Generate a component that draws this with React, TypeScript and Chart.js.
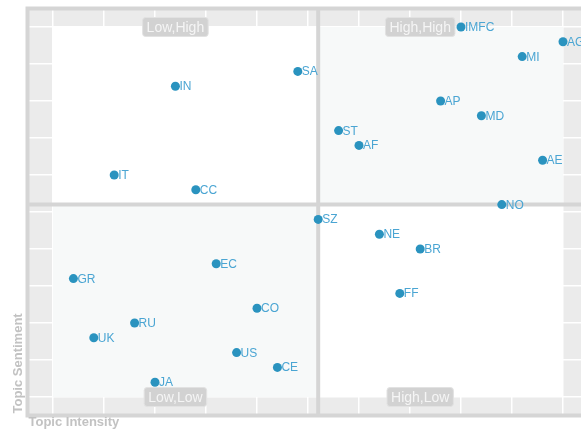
import { useEffect, useRef } from 'react';
import { Chart, registerables } from 'chart.js';

Chart.register(...registerables);

const countries = ['IMFC', 'AG', 'MI', 'SA', 'IN', 'AP', 'MD', 'ST', 'AF', 'AE', 'IT', 'CC', 'NO', 'SZ', 'NE', 'BR', 'EC', 'GR', 'FF', 'CO', 'RU', 'UK', 'US', 'CE', 'JA'];
const topicIntensity = [8.0, 10.0, 9.2, 4.8, 2.4, 7.6, 8.4, 5.6, 6.0, 9.6, 1.2, 2.8, 8.8, 5.2, 6.4, 7.2, 3.2, 0.4, 6.8, 4.0, 1.6, 0.8, 3.6, 4.4, 2.0];
const topicSentiment = [10.0, 9.6, 9.2, 8.8, 8.4, 8.0, 7.6, 7.2, 6.8, 6.4, 6.0, 5.6, 5.2, 4.8, 4.4, 4.0, 3.6, 3.2, 2.8, 2.4, 2.0, 1.6, 1.2, 0.8, 0.4];

const gridTicks = [0, 1, 2, 3, 4, 5, 6, 7, 8, 9, 10];
const axisMin = -0.5;
const axisMax = 10.5;
const splitIntensity = 5.2;
const splitSentiment = 5.2;

const quadrantNames = ['Low,High', 'High,High', 'Low,Low', 'High,Low'];
const quadrantLabelX = [2.4, 7.2, 2.4, 7.2];
const quadrantLabelY = [10, 10, 0, 0];

const xTitle = 'Topic Intensity';
const yTitle = 'Topic Sentiment';

const FONT = '"Liberation Sans", Arial, sans-serif';

const quadPlugin = {
  id: 'quadrants',
  beforeDraw(chart: any) {
    const { ctx, chartArea: a } = chart;
    ctx.save();
    ctx.fillStyle = '#ebebeb';
    ctx.fillRect(a.left, a.top, a.right - a.left, a.bottom - a.top);
    ctx.restore();
  },
  beforeDatasetsDraw(chart: any) {
    const { ctx, chartArea: a } = chart;
    const xs = chart.scales.x;
    const ys = chart.scales.y;
    const x0 = xs.getPixelForValue(gridTicks[0]);
    const x1 = xs.getPixelForValue(gridTicks[gridTicks.length - 1]);
    const xm = xs.getPixelForValue(splitIntensity);
    const y0 = ys.getPixelForValue(gridTicks[0]);
    const y1 = ys.getPixelForValue(gridTicks[gridTicks.length - 1]);
    const ym = ys.getPixelForValue(splitSentiment);
    ctx.save();
    ctx.fillStyle = '#ffffff';
    ctx.fillRect(x0, y1, xm - x0, ym - y1);
    ctx.fillRect(xm, ym, x1 - xm, y0 - ym);
    ctx.fillStyle = '#f7f9f9';
    ctx.fillRect(xm, y1, x1 - xm, ym - y1);
    ctx.fillRect(x0, ym, xm - x0, y0 - ym);
    ctx.strokeStyle = '#d5d5d5';
    ctx.lineWidth = 4;
    ctx.beginPath();
    ctx.moveTo(xm, a.top);
    ctx.lineTo(xm, a.bottom);
    ctx.moveTo(a.left, ym);
    ctx.lineTo(a.right, ym);
    ctx.stroke();
    ctx.strokeRect(a.left, a.top, a.right - a.left, a.bottom - a.top);
    ctx.restore();
  },
  afterDatasetsDraw(chart: any) {
    const { ctx, chartArea: a } = chart;
    const xs = chart.scales.x;
    const ys = chart.scales.y;
    ctx.save();
    // point labels
    ctx.font = '12px ' + FONT;
    ctx.fillStyle = '#4aa5d3';
    ctx.textAlign = 'left';
    ctx.textBaseline = 'alphabetic';
    countries.forEach((name, i) => {
      const px = xs.getPixelForValue(topicIntensity[i]);
      const py = ys.getPixelForValue(topicSentiment[i]);
      ctx.fillText(name, px + 4, py + 4);
    });
    // quadrant boxes
    ctx.font = '14px ' + FONT;
    quadrantNames.forEach((name, i) => {
      const cx = xs.getPixelForValue(quadrantLabelX[i]);
      const cy = ys.getPixelForValue(quadrantLabelY[i]);
      const w = ctx.measureText(name).width + 8;
      const h = 19;
      const bx = cx - w / 2;
      const by = cy - h / 2;
      ctx.beginPath();
      ctx.roundRect(bx, by, w, h, 3);
      ctx.fillStyle = '#d2d2d2';
      ctx.fill();
      ctx.strokeStyle = '#e2e2e2';
      ctx.lineWidth = 1;
      ctx.stroke();
      ctx.fillStyle = '#f5f5f5';
      ctx.textAlign = 'center';
      ctx.textBaseline = 'alphabetic';
      ctx.fillText(name, cx, cy + 5);
    });
    // axis titles
    ctx.font = 'bold 13px ' + FONT;
    ctx.fillStyle = '#c2c2c2';
    ctx.textAlign = 'left';
    ctx.textBaseline = 'alphabetic';
    ctx.fillText(xTitle, a.left + 1, a.bottom + 10);
    ctx.translate(a.left - 5.5, a.bottom - 2);
    ctx.rotate(-Math.PI / 2);
    ctx.fillText(yTitle, 0, 0);
    ctx.restore();
  },
};

export default function App() {
  const ref = useRef<HTMLCanvasElement>(null);
  useEffect(() => {
    if (!ref.current) return;
    const chart = new Chart(ref.current, {
      type: 'scatter',
      data: {
        datasets: [
          {
            label: 'Topics',
            data: countries.map((_, i) => ({ x: topicIntensity[i], y: topicSentiment[i] })),
            backgroundColor: '#2a93bf',
            borderWidth: 0,
            pointRadius: 4.5,
            pointHoverRadius: 4.5,
          },
        ],
      },
      options: {
        animation: false,
        responsive: false,
        events: [],
        layout: { padding: { left: 27.5, top: 8.5, right: 11.5, bottom: 15.5 } },
        plugins: { legend: { display: false }, tooltip: { enabled: false } },
        scales: {
          x: {
            type: 'linear',
            min: axisMin,
            max: axisMax,
            afterBuildTicks: (s: any) => { s.ticks = gridTicks.map((v) => ({ value: v })); },
            ticks: { display: false },
            grid: { color: '#ffffff', lineWidth: 1.5, drawTicks: false },
            border: { display: false },
          },
          y: {
            type: 'linear',
            min: axisMin,
            max: axisMax,
            afterBuildTicks: (s: any) => { s.ticks = gridTicks.map((v) => ({ value: v })); },
            ticks: { display: false },
            grid: { color: '#ffffff', lineWidth: 1.5, drawTicks: false },
            border: { display: false },
          },
        },
      },
      plugins: [quadPlugin],
    });
    return () => chart.destroy();
  }, []);
  return (
    <div style={{ position: 'fixed', left: 0, top: 0, width: 581, height: 431, overflow: 'hidden', background: '#ffffff' }}>
      <canvas ref={ref} width={600} height={431} style={{ display: 'block' }} />
    </div>
  );
}
